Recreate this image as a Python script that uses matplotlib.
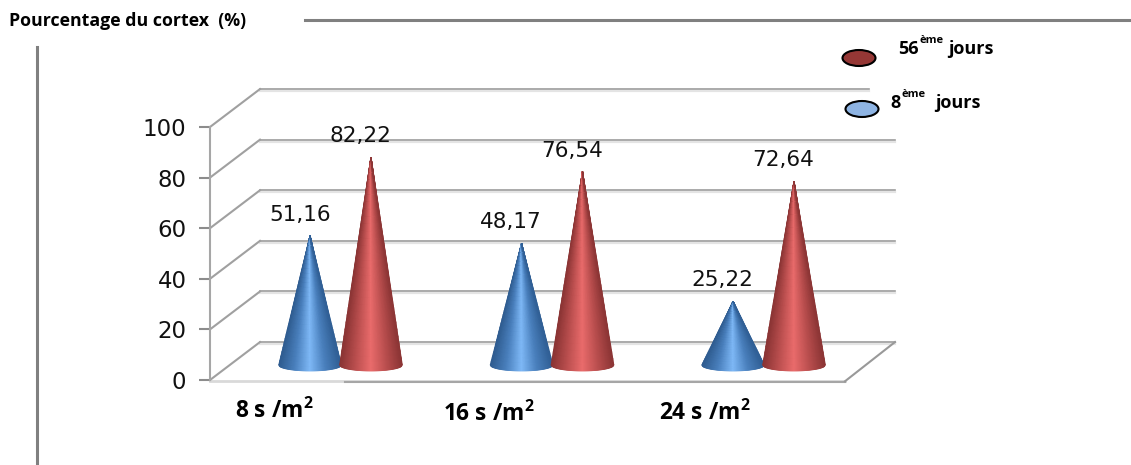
import numpy as np
import matplotlib as mpl
import matplotlib.pyplot as plt
from matplotlib.colors import LinearSegmentedColormap
from matplotlib.patches import Ellipse

categories = ['8 s /m$^{2}$', '16 s /m$^{2}$', '24 s /m$^{2}$']
jours_8 = [51.16, 48.17, 25.22]
jours_56 = [82.22, 76.54, 72.64]
ticks = [0, 20, 40, 60, 80, 100]

W, H = 1131, 465
plt.rcParams['mathtext.fontset'] = 'custom'
plt.rcParams['mathtext.rm'] = 'Open Sans:bold'
plt.rcParams['mathtext.default'] = 'rm'

fig = plt.figure(figsize=(W / 100, H / 100), dpi=100)

# overlay in pixels for the decoration round the chart
px = fig.add_axes([0, 0, 1, 1])
px.set_xlim(0, W)
px.set_ylim(H, 0)
px.axis('off')

# chart axes: front plane of the 3d box
ax = fig.add_axes([210 / W, (H - 380) / H, 635 / W, 253 / H])
ax.set_xlim(-0.617, 2.385)
ax.set_ylim(0, 100)
ax.patch.set_alpha(0)
for s in ['top', 'right', 'bottom']:
    ax.spines[s].set_visible(False)
ax.spines['left'].set_color('#a6a6a6')
ax.spines['left'].set_linewidth(1.5)
ax.set_xticks([])
ax.set_yticks(ticks)
ax.tick_params(axis='y', length=8, width=1.5, color='#8c8c8c', labelsize=16.5, labelcolor='#111111', pad=9)

# depth of the box in data units
dx = 50 / 635 * 3.002
dy = 15.0
cone_floor = 5.9
x0, x1 = ax.get_xlim()
top_end = x1 + (869 - 845) / 635 * 3.002
for v in ticks:
    end = top_end if v == 100 else x1 + dx
    ax.plot([x0 + dx, end], [v + dy - 0.8, v + dy - 0.8], color='#e4e4e4', lw=1.6, clip_on=False, zorder=1)
    ax.plot([x0 + dx, end], [v + dy, v + dy], color='#9c9c9c', lw=1.2, clip_on=False, zorder=1.2)
    ax.plot([x0, x0 + dx], [v, v + dy], color='#a0a0a0', lw=1.5, clip_on=False, zorder=1.2)

# floor
ax.plot([x0, x1], [-0.3, -0.3], color='#d9d9d9', lw=2, clip_on=False, zorder=1)
ax.plot([x0 + (345 - 210) / 635 * 3.002, x1], [-0.7, -0.7], color='#a6a6a6', lw=1.5, clip_on=False, zorder=1.1)
ax.plot([x1, x1 + dx], [-0.5, dy], color='#999999', lw=1.5, clip_on=False, zorder=1.2)

blue = LinearSegmentedColormap.from_list('b', ['#2f5c90', '#4a80bd', '#7fb9f7', '#4a80bd', '#305f95'])
red = LinearSegmentedColormap.from_list('r', ['#8a3434', '#bb4f4f', '#ea6c6c', '#bb4f4f', '#8c3535'])


def cone(cx, value, half, cmap, z):
    u = np.linspace(-1, 1, 61)
    v = np.linspace(0, 1, 30)
    U, V = np.meshgrid(u, v)
    X = cx + half * U * (1 - V)
    base = cone_floor - 2.3 * np.sqrt(1 - U ** 2) * (1 - V)
    Y = base + value * V
    ax.pcolormesh(X, Y, U, cmap=cmap, shading='gouraud', vmin=-1, vmax=1, zorder=z, clip_on=False)


offset = 0.144
half_w = 0.148
for i in range(len(categories)):
    xb = i - offset
    xr = i + offset
    cone(xb, jours_8[i], half_w, blue, 3)
    cone(xr, jours_56[i], half_w, red, 4)
    for xx, val in [(xb, jours_8[i]), (xr, jours_56[i])]:
        ax.annotate(f'{val:.2f}'.replace('.', ','), (xx, val + cone_floor), xytext=(-7.5, 15),
                    textcoords='offset points', ha='center', va='center', fontsize=15.5,
                    color='#111111', zorder=6, annotation_clip=False)

# surrounding lines
px.plot([305, W], [20, 20], color='#808080', lw=2.2)
px.plot([37, 37], [47, H], color='#808080', lw=2.2)

bold = dict(family='Open Sans', fontweight='bold', color='black')
px.text(9, 26, 'Pourcentage du cortex  (%)', fontsize=12.8, va='baseline', **bold)

cat_x = [235, 443, 659]
cat_y = [418, 421, 420]
for lab, xx, yy in zip(categories, cat_x, cat_y):
    px.text(xx, yy, lab, fontsize=16.4, va='baseline', **bold)

# legend drawn by hand like the original
px.add_patch(Ellipse((859, 58), 33, 16, fc='#953735', ec='black', lw=1.5, zorder=5))
px.add_patch(Ellipse((862, 109), 33, 16, fc='#8eb4e3', ec='black', lw=1.5, zorder=5))
px.text(898, 54, '56', fontsize=13, va='baseline', **bold)
px.text(920, 43, 'ème', fontsize=8, va='baseline', **bold)
px.text(948, 54, 'jours', fontsize=13, va='baseline', **bold)
px.text(890, 108, '8', fontsize=13, va='baseline', **bold)
px.text(901, 97, 'ème', fontsize=8, va='baseline', **bold)
px.text(935, 108, 'jours', fontsize=13, va='baseline', **bold)

fig.savefig('out.png', dpi=100)
